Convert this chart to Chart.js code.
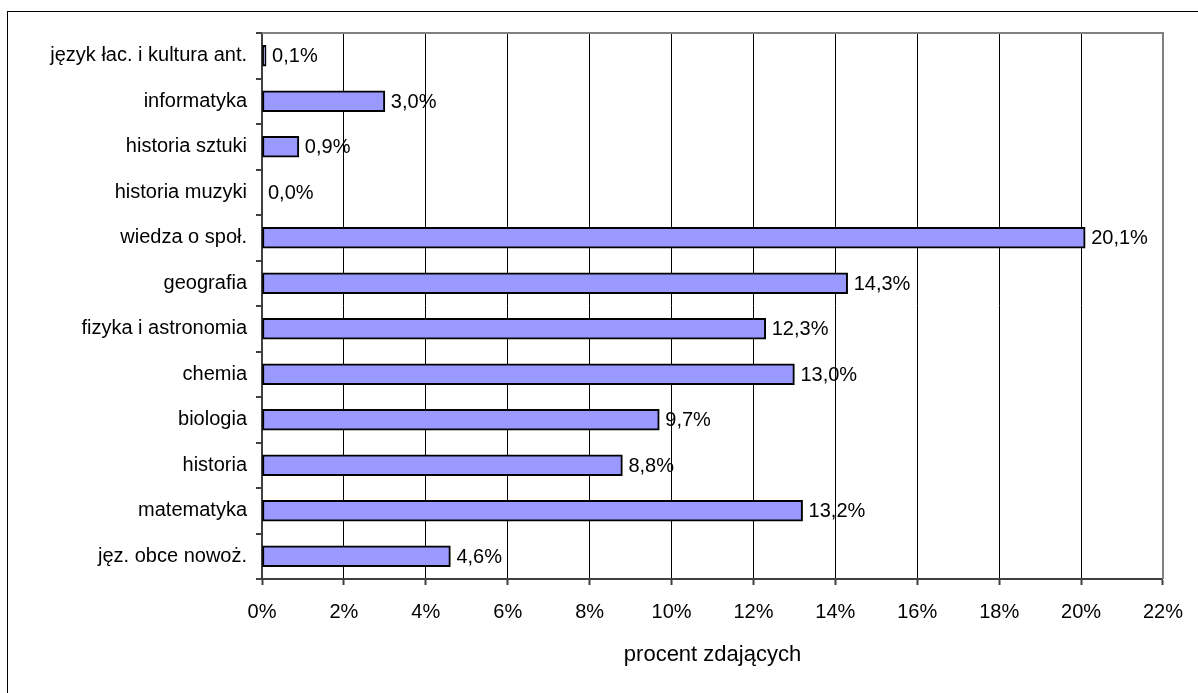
<!DOCTYPE html>
<html>
<head>
<meta charset="utf-8">
<script src="https://cdn.jsdelivr.net/npm/chart.js@4"></script>
<style>
  body { margin: 0; background: #fff; overflow: hidden; }
  #wrap { position: relative; width: 1198px; height: 693px; }
  #frame { position: absolute; left: 7px; top: 11px; width: 1300px; height: 800px;
           border-left: 1px solid #000; border-top: 1px solid #000; }
  canvas { position: absolute; left: 0; top: 0; }
</style>
</head>
<body>
<div id="wrap">
  <div id="frame"></div>
  <canvas id="przedmioty" width="1198" height="693"></canvas>
</div>
<script>
// data (top to bottom)
const subjects = [
  "język łac. i kultura ant.",
  "informatyka",
  "historia sztuki",
  "historia muzyki",
  "wiedza o społ.",
  "geografia",
  "fizyka i astronomia",
  "chemia",
  "biologia",
  "historia",
  "matematyka",
  "jęz. obce nowoż."
];
const percentPassing = [0.1, 3.0, 0.9, 0.0, 20.1, 14.3, 12.3, 13.0, 9.7, 8.8, 13.2, 4.6];
const xTicks = [0, 2, 4, 6, 8, 10, 12, 14, 16, 18, 20, 22];
const axisTitle = "procent zdających";

const FONT = "'Liberation Sans', Arial, sans-serif";

function fmt(v) {
  return v.toFixed(1).replace(".", ",") + "%";
}

// gray top/right border of the plot area
const plotBorder = {
  id: "plotBorder",
  beforeDatasetsDraw(chart) {
    const a = chart.chartArea;
    const ctx = chart.ctx;
    ctx.save();
    ctx.strokeStyle = "#808080";
    ctx.lineWidth = 2;
    ctx.beginPath();
    ctx.moveTo(a.left, a.top);
    ctx.lineTo(a.right, a.top);
    ctx.lineTo(a.right, a.bottom);
    ctx.stroke();
    ctx.restore();
  }
};

// value labels right of each bar
const valueLabels = {
  id: "valueLabels",
  afterDatasetsDraw(chart) {
    const ctx = chart.ctx;
    const meta = chart.getDatasetMeta(0);
    ctx.save();
    ctx.font = "20px " + FONT;
    ctx.fillStyle = "#000";
    ctx.textAlign = "left";
    ctx.textBaseline = "middle";
    meta.data.forEach((bar, i) => {
      ctx.fillText(fmt(percentPassing[i]), bar.x + 6, bar.y + 1);
    });
    ctx.restore();
  }
};

new Chart(document.getElementById("przedmioty"), {
  type: "bar",
  data: {
    labels: subjects,
    datasets: [{
      data: percentPassing,
      backgroundColor: "#9999FF",
      borderColor: "#000",
      borderWidth: 2,
      borderSkipped: false,
      barThickness: 21
    }]
  },
  options: {
    indexAxis: "y",
    responsive: false,
    animation: false,
    layout: { padding: { top: 33, right: 31, left: 0, bottom: 0 } },
    plugins: {
      legend: { display: false },
      tooltip: { enabled: false }
    },
    scales: {
      x: {
        min: 0,
        max: 22,
        afterBuildTicks: scale => { scale.ticks = xTicks.map(v => ({ value: v })); },
        afterFit: scale => { scale.height = 114; },
        ticks: {
          callback: v => v + "%",
          color: "#000",
          padding: 15,
          maxRotation: 0,
          font: { family: FONT, size: 20 }
        },
        grid: { color: "#000", lineWidth: 1, tickLength: 6, tickColor: "#404040", tickWidth: 2 },
        border: { color: "#404040", width: 2 },
        title: {
          display: true,
          text: axisTitle,
          color: "#000",
          font: { family: FONT, size: 22 },
          padding: { top: 0, bottom: 25 }
        }
      },
      y: {
        afterFit: scale => { scale.width = 262; },
        ticks: {
          color: "#000",
          padding: 9,
          font: { family: FONT, size: 20 }
        },
        grid: { drawOnChartArea: false, tickLength: 6, color: "#404040", lineWidth: 2 },
        border: { color: "#404040", width: 2 }
      }
    }
  },
  plugins: [plotBorder, valueLabels]
});
</script>
</body>
</html>
